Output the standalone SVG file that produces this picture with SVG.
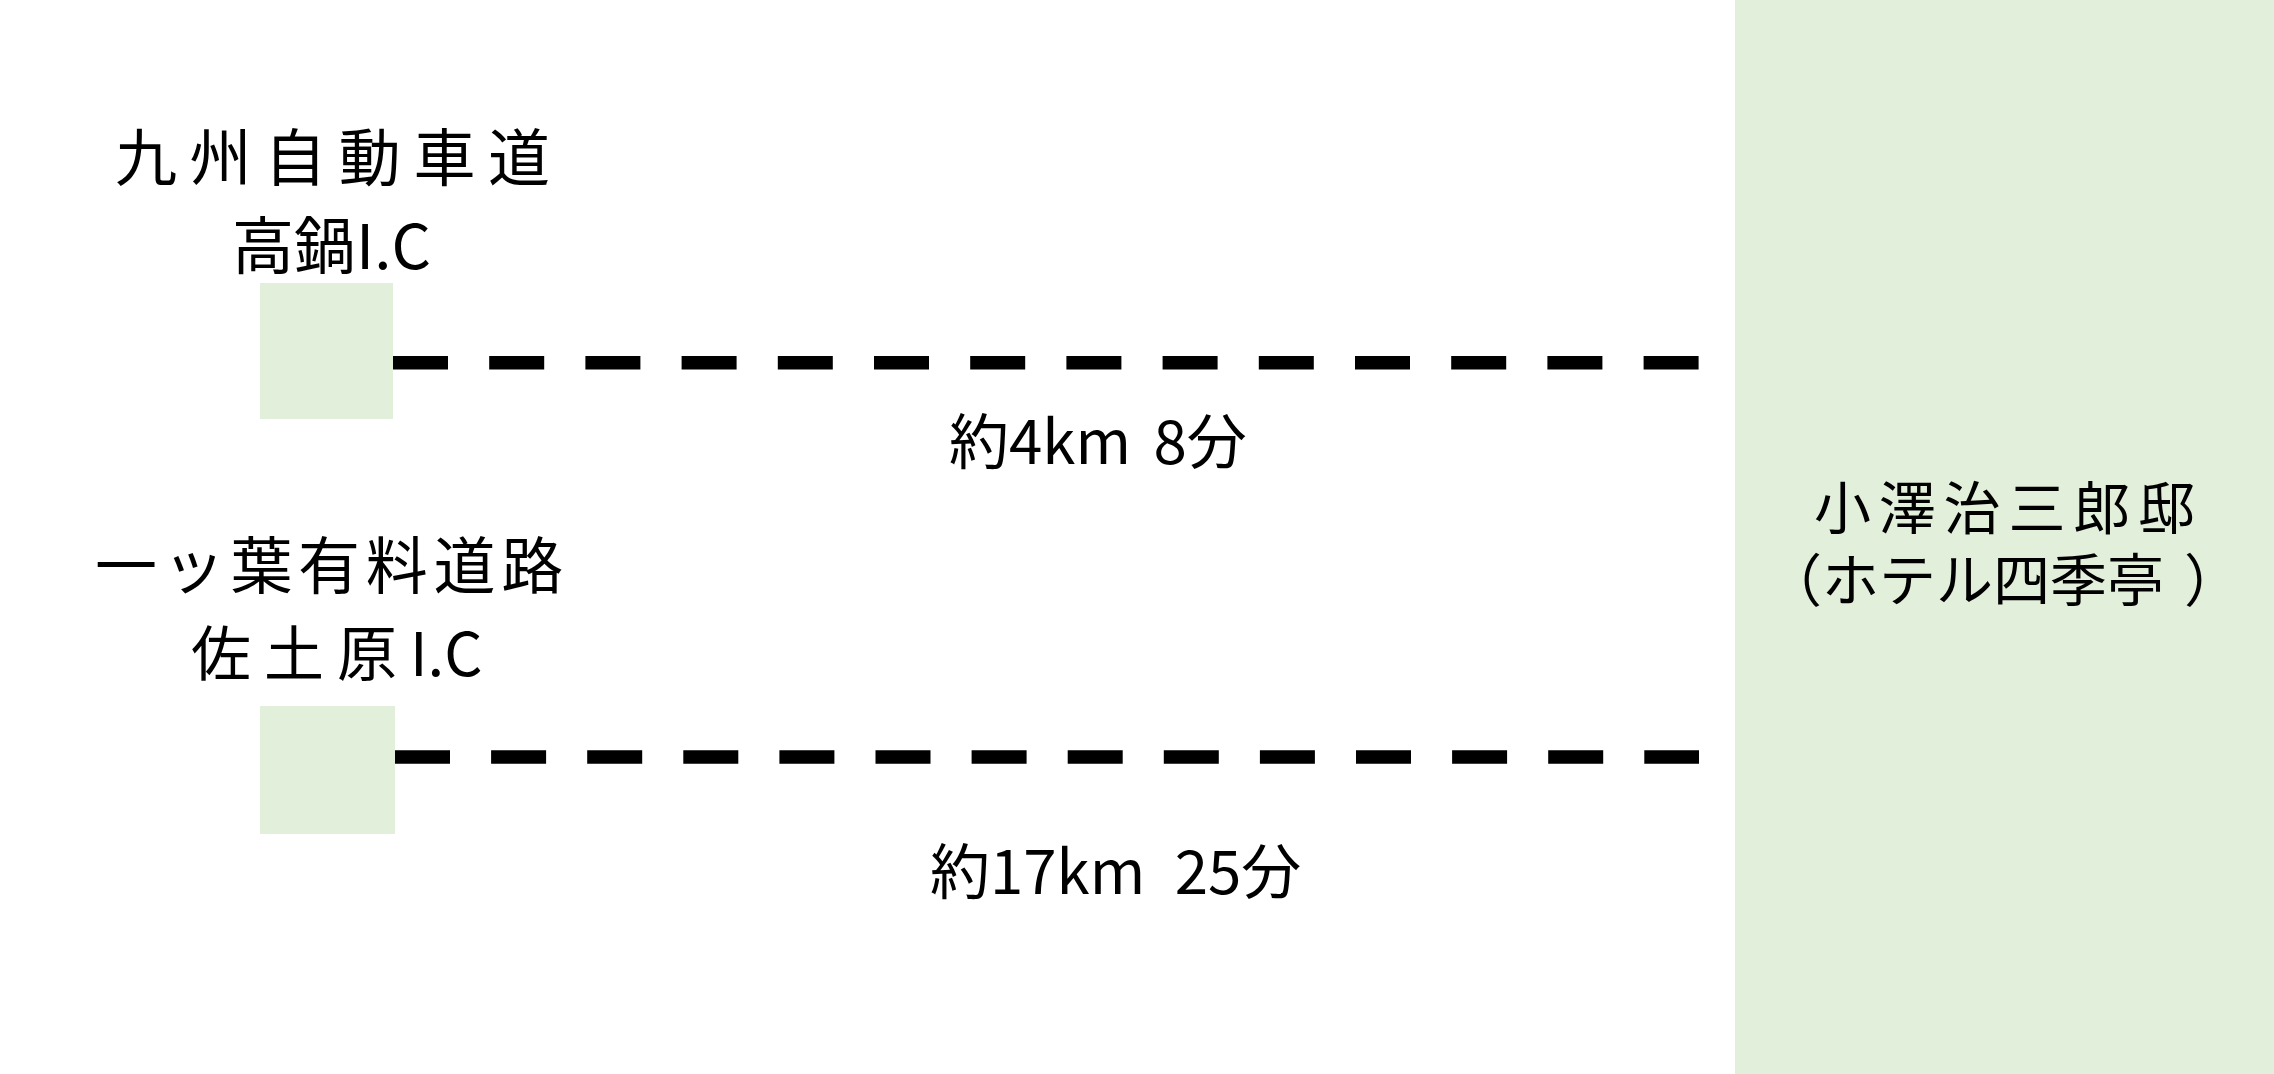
<svg xmlns="http://www.w3.org/2000/svg" width="2274" height="1074" viewBox="0 0 2274 1074">
<style>
.bg{fill:#ffffff}
.node{fill:#E2EFDA}
.t{font-family:"Noto Sans CJK JP","Noto Sans",sans-serif;fill:#000000}
.road{stroke:#000000;stroke-width:13.5;fill:none}
</style>
<rect class="bg" x="0" y="0" width="2274" height="1074"/>
<g id="connectors">
<line class="road" x1="393" y1="362.7" x2="1699" y2="362.7" stroke-dasharray="55 41.2"/>
<line class="road" x1="395" y1="757" x2="1699" y2="757" stroke-dasharray="55 41.1"/>
<text class="t" x="949" y="464" font-size="60">約4km<tspan dx="9"> 8分</tspan></text>
<text class="t" x="930" y="894" font-size="60">約17km<tspan dx="16"> 25分</tspan></text>
</g>
<g id="ic-takanabe">
<rect class="node" x="260" y="283" width="133" height="136"/>
<text class="t" x="115" y="181" font-size="62" letter-spacing="12.6">九州自動車道</text>
<text class="t" x="232" y="269" font-size="62">高鍋I.C</text>
</g>
<g id="ic-sadowara">
<rect class="node" x="260" y="706" width="135" height="128"/>
<text class="t" x="95" y="589" font-size="62" letter-spacing="5.7">一ッ葉有料道路</text>
<text class="t" x="191" y="676" font-size="60"><tspan letter-spacing="13">佐土原</tspan>I.C</text>
</g>
<g id="destination">
<rect class="node" x="1735" y="0" width="539" height="1074"/>
<text class="t" x="1814" y="529" font-size="57" letter-spacing="7.8">小澤治三郎邸</text>
<text class="t" x="1765" y="601" font-size="57">（ホテル四季亭<tspan dx="20">）</tspan></text>
</g>
</svg>
